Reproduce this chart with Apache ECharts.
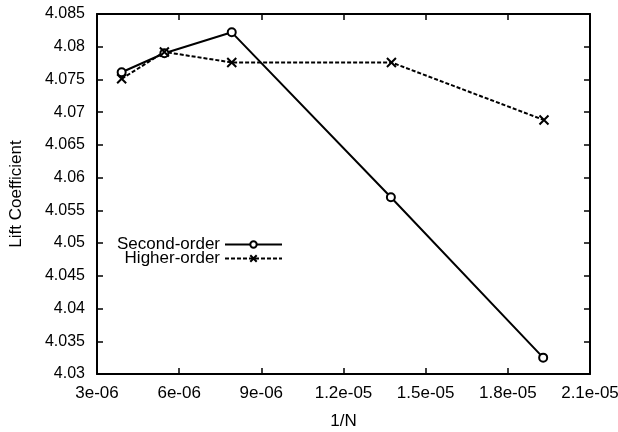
<!DOCTYPE html>
<html>
<head>
<meta charset="utf-8">
<script src="https://cdn.jsdelivr.net/npm/echarts@6/dist/echarts.min.js"></script>
<style>
  html, body { margin: 0; padding: 0; background: #fff; }
  #chart { width: 618px; height: 432px; }
</style>
</head>
<body>
<div id="chart"></div>
<script>
// Lift coefficient against inverse grid size 1/N
const secondOrderX = [3.9e-6, 5.46e-6, 7.92e-6, 13.73e-6, 19.29e-6];
const secondOrderY = [4.0761, 4.0790, 4.0822, 4.0570, 4.0325];
const higherOrderX = [3.9e-6, 5.46e-6, 7.92e-6, 13.75e-6, 19.32e-6];
const higherOrderY = [4.0751, 4.0792, 4.0776, 4.0776, 4.0688];

const xTickLabels = ['3e-06', '6e-06', '9e-06', '1.2e-05', '1.5e-05', '1.8e-05', '2.1e-05'];
const yTickLabels = ['4.03', '4.035', '4.04', '4.045', '4.05', '4.055', '4.06',
                     '4.065', '4.07', '4.075', '4.08', '4.085'];

const X_MIN = 3e-6, X_MAX = 2.1e-5, X_STEP = 3e-6;
const Y_MIN = 4.03, Y_MAX = 4.085, Y_STEP = 0.005;

const FONT = 'Liberation Sans';
const INK = '#000';

function pairs(xs, ys) { return xs.map((x, i) => [x, ys[i]]); }
function tickText(labels, min, step) {
  return v => labels[Math.round((v - min) / step)] || '';
}

const axisLine = { show: true, lineStyle: { color: INK, width: 2 } };
const axisTick = { show: true, inside: true, length: 6, lineStyle: { color: INK, width: 1.5 } };

const crossPath = 'path://M0,0L10,10M10,0L0,10';

const chart = echarts.init(document.getElementById('chart'), null, { renderer: 'canvas' });
chart.setOption({
  animation: false,
  backgroundColor: '#fff',
  grid: { left: 97, right: 28, top: 14, bottom: 58, containLabel: false, outerBoundsMode: 'none' },
  xAxis: [
    {
      type: 'value', min: X_MIN, max: X_MAX, interval: X_STEP,
      name: '1/N', nameLocation: 'middle', nameGap: 39,
      nameTextStyle: { fontFamily: FONT, fontSize: 17, color: INK },
      axisLine, axisTick, splitLine: { show: false },
      axisLabel: { fontFamily: FONT, fontSize: 17, color: INK, margin: 11,
                   formatter: tickText(xTickLabels, X_MIN, X_STEP) }
    },
    {
      type: 'value', position: 'top', min: X_MIN, max: X_MAX, interval: X_STEP,
      axisLine, axisTick, splitLine: { show: false }, axisLabel: { show: false }
    }
  ],
  yAxis: [
    {
      type: 'value', min: Y_MIN, max: Y_MAX, interval: Y_STEP,
      name: 'Lift Coefficient', nameLocation: 'middle', nameRotate: 90, nameGap: 72,
      nameTextStyle: { fontFamily: FONT, fontSize: 17, color: INK },
      axisLine, axisTick, splitLine: { show: false },
      axisLabel: { fontFamily: FONT, fontSize: 16, color: INK, margin: 12,
                   formatter: tickText(yTickLabels, Y_MIN, Y_STEP) }
    },
    {
      type: 'value', position: 'right', min: Y_MIN, max: Y_MAX, interval: Y_STEP,
      axisLine, axisTick, splitLine: { show: false }, axisLabel: { show: false }
    }
  ],
  legend: [
    {
      data: ['Second-order'], orient: 'vertical', align: 'right',
      right: 330, top: 231, itemWidth: 57, itemHeight: 8,
      textStyle: { fontFamily: FONT, fontSize: 17, color: INK }
    },
    {
      data: ['Higher-order'], orient: 'vertical', align: 'right',
      right: 330, top: 245, itemWidth: 57, itemHeight: 8,
      textStyle: { fontFamily: FONT, fontSize: 17, color: INK }
    }
  ],
  series: [
    {
      name: 'Second-order', type: 'line',
      data: pairs(secondOrderX, secondOrderY),
      symbol: 'emptyCircle', symbolSize: 8,
      lineStyle: { color: INK, width: 2 },
      itemStyle: { color: INK, borderColor: INK, borderWidth: 1.8 }
    },
    {
      name: 'Higher-order', type: 'line',
      data: pairs(higherOrderX, higherOrderY),
      symbol: crossPath, symbolSize: 9,
      lineStyle: { color: INK, width: 2, type: [4, 2] },
      itemStyle: { color: INK, borderColor: INK, borderWidth: 2 }
    }
  ]
});
</script>
</body>
</html>
